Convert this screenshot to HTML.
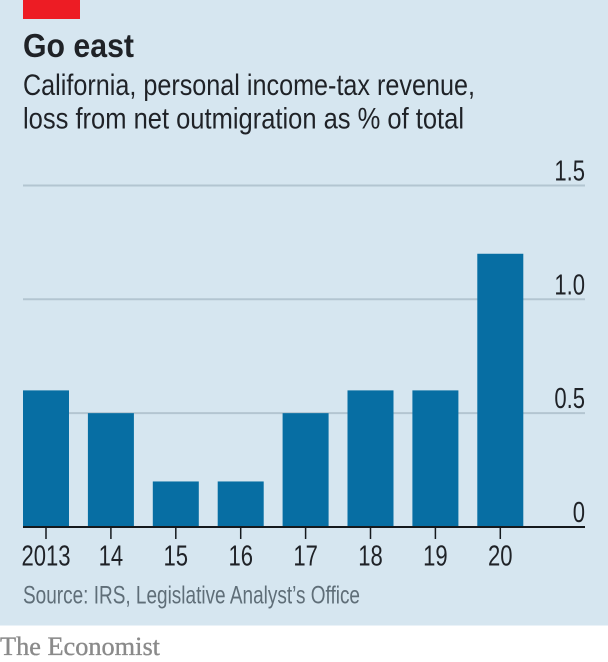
<!DOCTYPE html>
<html lang="en">
<head>
<meta charset="utf-8">
<title>Go east</title>
<style>
html,body{margin:0;padding:0;background:#fff;width:608px;height:662px;overflow:hidden}
svg{display:block;font-family:"Liberation Sans",sans-serif}
</style>
</head>
<body>
<svg id="chart" width="608" height="662" viewBox="0 0 608 662" xmlns="http://www.w3.org/2000/svg">
  <rect x="0" y="0" width="608" height="625.5" fill="#d6e6f0"/>
  <rect x="23" y="0" width="57" height="19" fill="#ed1c24"/>
  <text x="23" y="57" font-size="33" font-weight="700" fill="#1f2227" textLength="111" lengthAdjust="spacingAndGlyphs">Go east</text>
  <text x="23" y="95" font-size="29.5" fill="#1f2227" textLength="452" lengthAdjust="spacingAndGlyphs">California, personal income-tax revenue,</text>
  <text x="23" y="128.5" font-size="29.5" fill="#1f2227" textLength="441" lengthAdjust="spacingAndGlyphs">loss from net outmigration as % of total</text>
  <g id="grid"></g>
  <g id="bars"></g>
  <g id="xaxis"></g>
  <text x="23" y="603.5" font-size="25" fill="#5f6e78" textLength="337" lengthAdjust="spacingAndGlyphs">Source: IRS, Legislative Analyst’s Office</text>
  <text x="0" y="655" font-size="26" fill="#8a8a8a" stroke="#8a8a8a" stroke-width="0.35" font-family="'Liberation Serif',serif" textLength="160" lengthAdjust="spacingAndGlyphs">The Economist</text>
</svg>
<script>
const categories = ['2013', '14', '15', '16', '17', '18', '19', '20'];
const values = [0.6, 0.5, 0.2, 0.2, 0.5, 0.6, 0.6, 1.2];
const yTicks = [0, 0.5, 1, 1.5];
const yTickLabels = ['0', '0.5', '1.0', '1.5'];

const NS = 'http://www.w3.org/2000/svg';
const plotLeft = 23, plotRight = 585, baseY = 527, unitPx = 227.7;
const step = 64.9, barW = 46;
const labelSize = 29, labelStretch = 0.76;
function yScale(v) { return baseY - v * unitPx; }
function xScale(i) { return plotLeft + barW / 2 + i * step; }
function mk(parent, tag, attrs) {
  const el = document.createElementNS(NS, tag);
  for (const k in attrs) el.setAttribute(k, attrs[k]);
  parent.appendChild(el);
  return el;
}
const gridG = document.getElementById('grid');
const barsG = document.getElementById('bars');
const xG = document.getElementById('xaxis');

yTicks.forEach(function (t, i) {
  const y = yScale(t);
  if (t !== 0) {
    const line = mk(gridG, 'line', { x1: plotLeft, x2: plotRight, y1: y, y2: y, stroke: '#b3c5d1', 'stroke-width': 2 });
    
    
  }
  const label = mk(gridG, 'text', { x: 0, y: y - 5, 'text-anchor': 'end', 'font-size': labelSize, fill: '#1f2227' });
  
  
  label.setAttribute('transform', 'translate(' + plotRight + ' 0) scale(' + labelStretch + ' 1)');
  label.textContent = yTickLabels[i];
});

values.forEach(function (v, i) {
  const y = yScale(v);
  const bar = mk(barsG, 'rect', { x: xScale(i) - barW / 2, y: y, width: barW, height: baseY - y, fill: '#076ea3' });
  
  
});

const axis = mk(xG, 'line', { x1: plotLeft, x2: plotRight, y1: baseY, y2: baseY, stroke: '#15191d', 'stroke-width': 2 });



categories.forEach(function (c, i) {
  const x = xScale(i);
  const tick = mk(xG, 'line', { x1: x, x2: x, y1: baseY, y2: baseY + 12, stroke: '#15191d', 'stroke-width': 1.5 });
  
  
  const label = mk(xG, 'text', { x: 0, y: 565.5, 'text-anchor': 'middle', 'font-size': labelSize, fill: '#1f2227' });
  
  
  label.setAttribute('transform', 'translate(' + x + ' 0) scale(' + labelStretch + ' 1)');
  label.textContent = c;
});
</script>
</body>
</html>
